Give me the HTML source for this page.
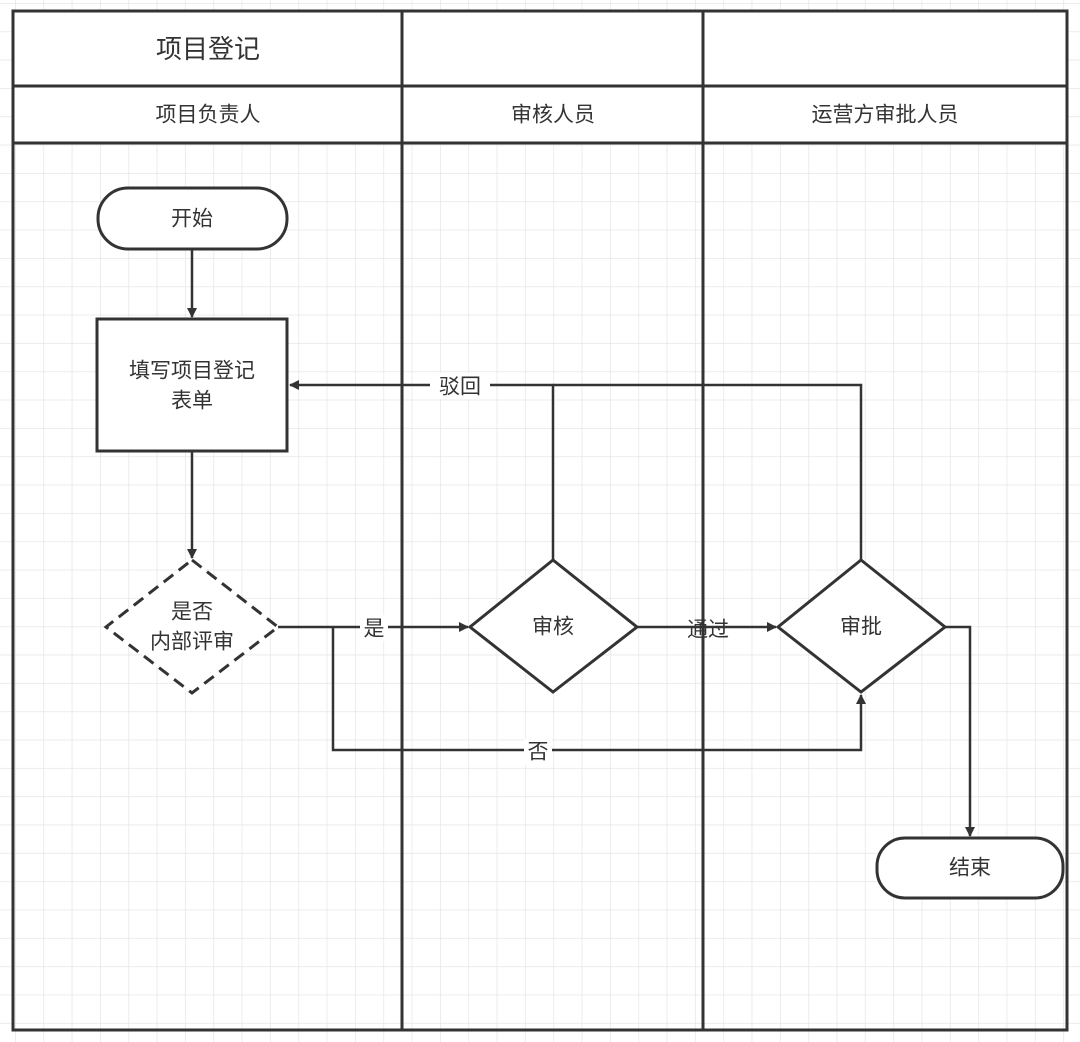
<!DOCTYPE html>
<html><head><meta charset="utf-8"><style>
html,body{margin:0;padding:0;background:#fff;}
svg{display:block;}
text{font-family:"Liberation Sans","Noto Sans CJK SC",sans-serif;fill:#333;text-anchor:middle;dominant-baseline:central;}
</style></head><body>
<svg width="1080" height="1042" viewBox="0 0 1080 1042" xmlns="http://www.w3.org/2000/svg">
<defs>
<pattern id="g" x="15" y="3" width="28.33" height="28.33" patternUnits="userSpaceOnUse">
<path d="M0 0V28.33M0 0H28.33" stroke="#e6e6e6" stroke-width="1.5" fill="none"/>
</pattern>
<marker id="a" markerWidth="10" markerHeight="10" refX="9" refY="5" orient="auto" markerUnits="userSpaceOnUse" viewBox="0 0 10 10">
<path d="M0 0L10 5L0 10z" fill="#333"/>
</marker>
</defs>
<rect width="1080" height="1042" fill="url(#g)"/>
<rect x="13" y="11" width="1054" height="132" fill="#fff"/>
<g stroke="#333" stroke-width="3" fill="none">
<rect x="13" y="11" width="1054" height="1019"/>
<line x1="402" y1="11" x2="402" y2="1030"/>
<line x1="703" y1="11" x2="703" y2="1030"/>
<line x1="13" y1="86" x2="1067" y2="86"/>
<line x1="13" y1="143" x2="1067" y2="143"/>
</g>
<text x="208" y="49" font-size="26">项目登记</text>
<text x="208" y="115" font-size="21">项目负责人</text>
<text x="553" y="115" font-size="21">审核人员</text>
<text x="885" y="115" font-size="21">运营方审批人员</text>
<!-- connectors -->
<g stroke="#333" stroke-width="3" fill="none">
<line x1="192" y1="249" x2="192" y2="317" stroke-width="2.5" marker-end="url(#a)"/>
<line x1="192" y1="451" x2="192" y2="558" stroke-width="2.5" marker-end="url(#a)"/>
<polyline points="553,560 553,385 290,385" stroke-width="2.5" marker-end="url(#a)"/>
<polyline points="861,560 861,385 553,385" stroke-width="2.5"/>
<line x1="278" y1="627" x2="468" y2="627" stroke-width="2.5" marker-end="url(#a)"/>
<polyline points="333,627 333,750 861,750 861,695" stroke-width="2.5" marker-end="url(#a)"/>
<line x1="637" y1="627" x2="776" y2="627" stroke-width="2.5" marker-end="url(#a)"/>
<polyline points="945,627 970,627 970,836" stroke-width="2.5" marker-end="url(#a)"/>
</g>
<g stroke="#333" stroke-width="3" fill="#fff">
<rect x="98" y="188" width="189" height="61" rx="30"/>
<rect x="97" y="319" width="190" height="132"/>
<polygon points="192,560 278,627 192,693 106,627" stroke-dasharray="12,7"/>
<polygon points="553,560 637,627 553,692 470,627"/>
<polygon points="861,560 945,627 861,692 778,627"/>
<rect x="877" y="838" width="186" height="60" rx="28"/>
</g>
<g font-size="21">
<text x="192" y="219">开始</text>
<text x="192" y="371">填写项目登记</text>
<text x="192" y="401">表单</text>
<text x="192" y="612">是否</text>
<text x="192" y="642">内部评审</text>
<text x="553" y="627">审核</text>
<text x="861" y="627">审批</text>
<text x="970" y="868">结束</text>
</g>
<g font-size="21">
<rect x="430" y="373" width="60" height="26" fill="#fff"/><text x="460" y="387">驳回</text>
<rect x="360" y="615" width="28" height="26" fill="#fff"/><text x="374" y="629">是</text>
<rect x="524" y="739" width="28" height="26" fill="#fff"/><text x="538" y="752">否</text>
<text x="708" y="630">通过</text>
</g>
</svg>
</body></html>
